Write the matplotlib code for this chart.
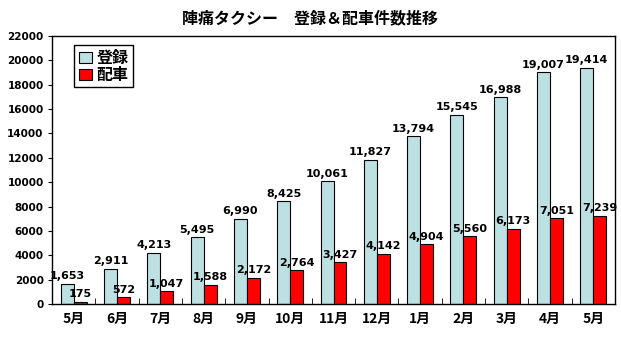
import numpy as np
import matplotlib

matplotlib.use("Agg")
import matplotlib.pyplot as plt
from matplotlib.ticker import FixedLocator

plt.rcParams["font.family"] = ["Noto Sans CJK JP", "DejaVu Sans"]
plt.rcParams["font.weight"] = "bold"

months = ["5月", "6月", "7月", "8月", "9月", "10月", "11月", "12月",
          "1月", "2月", "3月", "4月", "5月"]
registered = [1653, 2911, 4213, 5495, 6990, 8425, 10061, 11827,
              13794, 15545, 16988, 19007, 19414]
dispatched = [175, 572, 1047, 1588, 2172, 2764, 3427, 4142,
              4904, 5560, 6173, 7051, 7239]

fig = plt.figure(figsize=(6.21, 3.39), dpi=100)
ax = fig.add_axes([52 / 621, 1 - 304 / 339, 563 / 621, 268 / 339])

x = np.arange(len(months))
w = 0.3
ax.bar(x - w / 2, registered, w, color="#bde0e3", edgecolor="black", lw=0.8, label="登録")
ax.bar(x + w / 2, dispatched, w, color="#ff0000", edgecolor="black", lw=0.8, label="配車")

# value labels over each bar
for xi, v in zip(x, registered):
    ax.text(xi - w / 2, v + 200, f"{v:,}", ha="center", va="bottom",
            fontsize=8, fontweight="bold", family="DejaVu Sans")
for xi, v in zip(x, dispatched):
    ax.text(xi + w / 2, v + 200, f"{v:,}", ha="center", va="bottom",
            fontsize=8, fontweight="bold", family="DejaVu Sans")

ax.set_xlim(-0.5, len(months) - 0.5)
ax.set_ylim(0, 22000)
ax.set_yticks(np.arange(0, 22001, 2000))
ax.set_yticklabels([str(v) for v in range(0, 22001, 2000)],
                   fontsize=7.5, fontweight="bold", family="DejaVu Sans")
ax.set_xticks(x)
ax.set_xticklabels(months, fontsize=10, fontweight="bold")
ax.tick_params(axis="x", length=0, pad=6)
ax.xaxis.set_minor_locator(FixedLocator(np.arange(0.5, len(months) - 1, 1)))
ax.tick_params(axis="x", which="minor", length=4, direction="in")
ax.tick_params(axis="y", length=3, width=0.8, pad=3)
for s in ax.spines.values():
    s.set_linewidth(1.0)

ax.legend(loc="upper left", bbox_to_anchor=(0.039, 0.966), fontsize=11.5,
          frameon=True, fancybox=False, edgecolor="black", framealpha=1,
          handlelength=0.8, handleheight=0.7, handletextpad=0.3,
          borderpad=0.3, labelspacing=0.05, borderaxespad=0)

fig.text(0.5, 1 - 18 / 339, "陣痛タクシー　登録＆配車件数推移", ha="center", va="center",
         fontsize=11.5, fontweight="bold")

fig.savefig("out.png", dpi=100)
